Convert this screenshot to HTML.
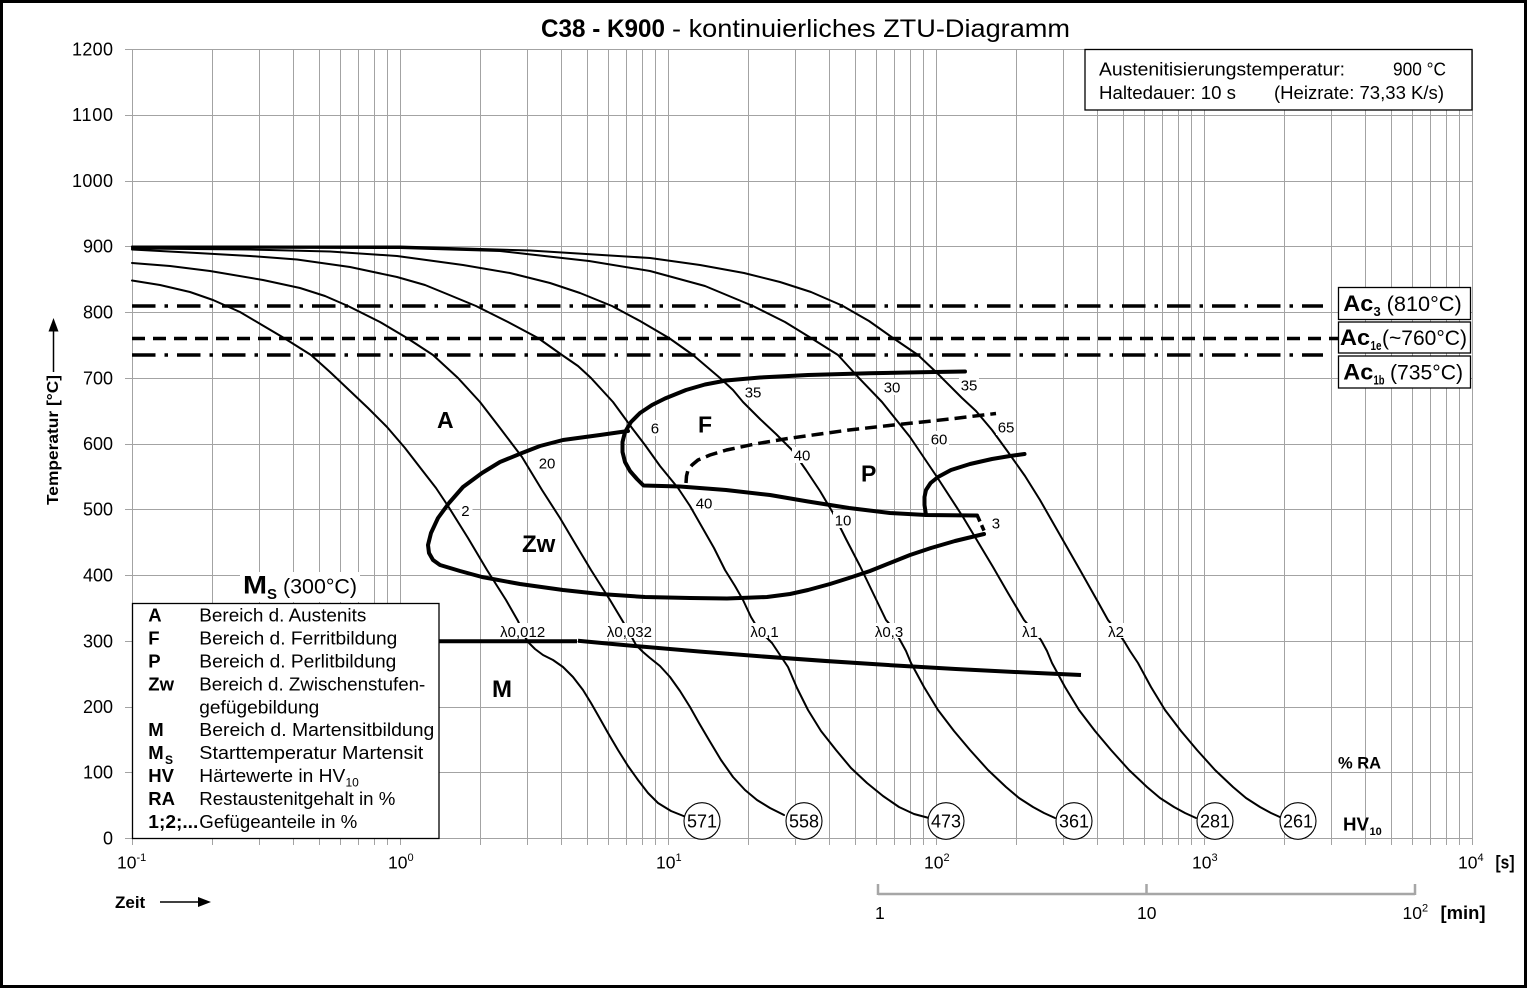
<!DOCTYPE html>
<html><head><meta charset="utf-8"><style>
html,body{margin:0;padding:0;background:#fff;}
svg{display:block;}
text{font-family:"Liberation Sans",Arial,sans-serif;fill:#000;}
.b{font-weight:bold;}
</style></head><body>
<svg xmlns="http://www.w3.org/2000/svg" width="1528" height="988" viewBox="0 0 1528 988">
<rect x="0" y="0" width="1528" height="988" fill="#fff"/>

<!-- grid -->
<path fill="none" stroke="#a3a3a3" stroke-width="1" d="
M132.5 49.5V845M212.5 49.5V845M259.5 49.5V845M293.5 49.5V845M319.5 49.5V845M340.5 49.5V845M358.5 49.5V845M374.5 49.5V845M387.5 49.5V845
M400.5 49.5V845M480.5 49.5V845M527.5 49.5V845M561.5 49.5V845M587.5 49.5V845M608.5 49.5V845M626.5 49.5V845M642.5 49.5V845M655.5 49.5V845
M668.5 49.5V845M748.5 49.5V845M795.5 49.5V845M829.5 49.5V845M855.5 49.5V845M876.5 49.5V845M894.5 49.5V845M910.5 49.5V845M923.5 49.5V845
M936.5 49.5V845M1016.5 49.5V845M1063.5 49.5V845M1097.5 49.5V845M1123.5 49.5V845M1144.5 49.5V845M1162.5 49.5V845M1178.5 49.5V845M1191.5 49.5V845
M1204.5 49.5V845M1284.5 49.5V845M1331.5 49.5V845M1365.5 49.5V845M1391.5 49.5V845M1412.5 49.5V845M1430.5 49.5V845M1446.5 49.5V845M1459.5 49.5V845
M1472.5 49.5V845
M125 838.5H1472.5M125 772.5H1472.5M125 707.5H1472.5M125 641.5H1472.5M125 575.5H1472.5M125 509.5H1472.5M125 444.5H1472.5
M125 378.5H1472.5M125 312.5H1472.5M125 246.5H1472.5M125 181.5H1472.5M125 115.5H1472.5M125 49.5H1472.5"/>

<!-- Y tick labels -->
<g font-size="18" text-anchor="end">
<text x="113" y="844.5">0</text>
<text x="113" y="778.5">100</text>
<text x="113" y="713">200</text>
<text x="113" y="647.5">300</text>
<text x="113" y="581.5">400</text>
<text x="113" y="515.5">500</text>
<text x="113" y="450">600</text>
<text x="113" y="384.5">700</text>
<text x="113" y="318.5">800</text>
<text x="113" y="252.5">900</text>
<text x="113" y="187" textLength="41">1000</text>
<text x="113" y="121" textLength="41">1100</text>
<text x="113" y="55.5" textLength="41">1200</text>
</g>

<!-- X tick labels -->
<g font-size="17.5">
<text x="117" y="868.5">10</text><text x="136.5" y="861" font-size="11">-1</text>
<text x="388" y="868.5">10</text><text x="407.5" y="861" font-size="11">0</text>
<text x="656" y="868.5">10</text><text x="675.5" y="861" font-size="11">1</text>
<text x="924" y="868.5">10</text><text x="943.5" y="861" font-size="11">2</text>
<text x="1192" y="868.5">10</text><text x="1211.5" y="861" font-size="11">3</text>
<text x="1458" y="868.5">10</text><text x="1477.5" y="861" font-size="11">4</text>
<text x="1495.5" y="868.5" class="b" font-size="18" textLength="19" lengthAdjust="spacingAndGlyphs">[s]</text>
</g>

<!-- minute scale -->
<path d="M878 894H1415M878 884V895M1146.5 884V895M1415 884V895" stroke="#a6a6a6" stroke-width="2.5" fill="none"/>
<g font-size="17.5">
<text x="875" y="919">1</text>
<text x="1137" y="919">10</text>
<text x="1402.5" y="919">10</text><text x="1422" y="911.5" font-size="11">2</text>
<text x="1440.5" y="919" class="b" font-size="18" textLength="45" lengthAdjust="spacingAndGlyphs">[min]</text>
</g>

<!-- Zeit arrow -->
<text x="115" y="908" font-size="17" class="b">Zeit</text>
<line x1="160" y1="902" x2="200" y2="902" stroke="#000" stroke-width="1.5"/>
<polygon points="198,897 211,902 198,907" fill="#000"/>

<!-- Y axis title -->
<text transform="translate(58,505) rotate(-90)" font-size="16" class="b" textLength="130" lengthAdjust="spacingAndGlyphs">Temperatur [°C]</text>
<line x1="53.5" y1="372" x2="53.5" y2="328" stroke="#000" stroke-width="1.5"/>
<polygon points="48.5,331.5 53.5,318 58.5,331.5" fill="#000"/>

<!-- Title -->
<text x="541" y="37" font-size="25" class="b" textLength="124" lengthAdjust="spacingAndGlyphs">C38 - K900</text>
<text x="672" y="37" font-size="25" textLength="398" lengthAdjust="spacingAndGlyphs">- kontinuierliches ZTU-Diagramm</text>

<!-- Ac lines -->
<line x1="132" y1="306" x2="1323" y2="306" stroke="#000" stroke-width="3.5" stroke-dasharray="23.5 9 3.5 9"/>
<line x1="132" y1="338.5" x2="1338" y2="338.5" stroke="#000" stroke-width="3.5" stroke-dasharray="13 8"/>
<line x1="132" y1="355" x2="1323" y2="355" stroke="#000" stroke-width="3.5" stroke-dasharray="23.5 9 3.5 9"/>

<!-- cooling curves -->
<g fill="none" stroke="#000" stroke-width="2" stroke-linejoin="round" stroke-linecap="round">
<polyline points="132,280.5 160,285 190,292 213,300 240,312 262,325 284,338 311,355 330,372 349,390 368,408 387,427 405,448 422,470 436,488 448,506 468,538 487,570 506,600 518,621 523,632 527,641 535,649 543,655 553,660 563,667 573,677 583,690 591,703 599,717 608,733 618,750 628,766 638,780 648,793 658,803 671,811 686,817"/>
<polyline points="132,263 170,266 210,271 263,280 300,288 325,296 348,306 380,322 407,338 433,355 458,378 480,402 500,428 522,457 542,490 560,518 576,545 591,570 610,600 622,620 629,632 636,645 643,652 650,658 660,666 670,677 680,691 690,707 699,723 709,740 721,760 733,777 745,790 757,800 770,808 784,815"/>
<polyline points="132,249.5 197,253 250,256 297,259.5 350,267 397,277 425,285 447,294 476,306 508,322 538,338 562,355 578,366 591,378 613,402 632,428 645,445 660,466 678,488 690,506 702,527 714,548 725,570 735,586 743,600 751,617 757,627 762,634 767,638 772,643 780,655 788,667 797,688 808,710 821,731 836,750 851,768 867,783 883,796 899,807 914,814 929,818"/>
<polyline points="132,248.5 250,249.5 330,251.5 397,256 463,265 510,273 550,283 580,293 612,306 640,321 669,338 693,355 720,378 733,390 743,402 760,419 776,434 792,450 806,470 820,491 833,513 846,539 860,566 873,593 886,620 893,628 900,640 906,651 911,663 924,687 938,710 954,731 970,750 988,770 1006,787 1019,798 1033,807 1044,813 1055,818"/>
<polyline points="132,247.5 400,248 500,251 589,261 650,271 705,286 753,306 785,322 811,338 838,355 858,377 882,402 910,437 937,477 963,517 978,542 993,567 1008,593 1024,620 1031,628 1041,640 1047,651 1052,663 1065,687 1079,710 1095,731 1111,750 1129,770 1147,787 1160,798 1174,807 1185,813 1196,818"/>
<polyline points="132,246.5 400,246.5 530,250.5 650,258 700,265 744,273 780,282 811,292 842,305.5 869,321 893,338 918,355 936,372 962,398 976,411 992,430 1008,452 1025,476 1040,500 1060,535 1080,570 1098,602 1108,620 1116,630 1124,641 1130,651 1138,663 1151,687 1165,710 1181,731 1197,750 1215,770 1233,787 1246,798 1260,807 1271,813 1282,818"/>
</g>

<!-- transformation boundaries -->
<g fill="none" stroke="#000" stroke-width="4" stroke-linejoin="round" stroke-linecap="round">
<polyline points="628,431 600,435 563,440 540,446 522,453 500,462 482,473 463,487 449,503 438,518 431,533 428,545 429,553 433,560 440,565 460,571 482,577 520,584 563,590 600,594 645,597 690,598 727,598.5 767,597 790,594 808,590 830,584 849,578 870,571 890,563 910,555 931,548 955,541 984,534"/>
<polyline points="965,371.5 920,372.3 869,373.3 808,375 760,377.5 726,380.5 705,384.5 686,390 665,398.5 652,405 640,413 631,422 625,432 622.5,442 622.5,452 625,462 630,471 637,479 643.5,485.5 680,486.5 726,490 770,495 808,501.5 849,508 890,513 926,515 977,515.5"/>
<polyline points="926,515 924.5,505 924.5,497 926,490 930.6,483 938,477 951,470 970,464 992,459 1010,456 1024.5,454"/>
<polyline points="686,483 686.5,476 688,470 692,465 698,460 710,455 726.5,450 755,444 787.8,438.5 820,434 849,430 880,426.5 910,423.3 950,419 996,413.5" stroke-width="3.5" stroke-dasharray="12 6" stroke-linecap="butt"/>
<line x1="977.5" y1="516" x2="985.5" y2="534" stroke-width="3.5" stroke-dasharray="6 4" stroke-linecap="butt"/>
<line x1="439" y1="641.3" x2="577" y2="641.3" stroke-linecap="butt"/>
<path d="M578,640.7 Q820,664 1081,675" stroke-linecap="butt"/>
</g>

<!-- small number labels -->
<g fill="#fff">
<rect x="459.5" y="502" width="13" height="16"/>
<rect x="537" y="455" width="20" height="16"/>
<rect x="649" y="420" width="13" height="16"/>
<rect x="743" y="384" width="20" height="16"/>
<rect x="792" y="447" width="20" height="16"/>
<rect x="694" y="495" width="20" height="16"/>
<rect x="833" y="512" width="20" height="16"/>
<rect x="882" y="379" width="20" height="16"/>
<rect x="959" y="377" width="20" height="16"/>
<rect x="929" y="431" width="20" height="16"/>
<rect x="996" y="419" width="20" height="16"/>
<rect x="990" y="515" width="13" height="16"/>
</g>
<g font-size="15">
<text x="461.3" y="516">2</text>
<text x="538.7" y="468.5">20</text>
<text x="650.8" y="433.5">6</text>
<text x="744.7" y="397.5">35</text>
<text x="793.7" y="460.5">40</text>
<text x="695.7" y="508.5">40</text>
<text x="834.7" y="525.5">10</text>
<text x="883.7" y="392.5">30</text>
<text x="960.7" y="390.5">35</text>
<text x="930.7" y="444.5">60</text>
<text x="997.7" y="432.5">65</text>
<text x="991.8" y="528.5">3</text>
</g>

<!-- lambda labels -->
<g fill="#fff">
<rect x="498" y="623" width="50" height="15"/>
<rect x="605" y="623" width="50" height="15"/>
<rect x="749" y="623" width="31" height="15"/>
<rect x="873" y="623" width="32" height="15"/>
<rect x="1020" y="623" width="20" height="15"/>
<rect x="1106" y="623" width="20" height="15"/>
</g>
<g font-size="15" text-anchor="middle">
<text x="522.7" y="637">λ0,012</text>
<text x="629.4" y="637">λ0,032</text>
<text x="764.6" y="637">λ0,1</text>
<text x="889" y="637">λ0,3</text>
<text x="1030" y="637">λ1</text>
<text x="1116" y="637">λ2</text>
</g>

<!-- region letters -->
<text x="437" y="428" font-size="23" class="b">A</text>
<text x="698" y="432.5" font-size="23" class="b">F</text>
<text x="861" y="481.5" font-size="23" class="b">P</text>
<text x="522" y="552" font-size="24" class="b">Zw</text>
<text x="492" y="697" font-size="24" class="b">M</text>

<!-- HV circles -->
<g fill="#fff" stroke="#000" stroke-width="1.1">
<ellipse cx="702" cy="821" rx="18" ry="18.3"/>
<ellipse cx="804" cy="821" rx="18" ry="18.3"/>
<ellipse cx="946" cy="821" rx="18" ry="18.3"/>
<ellipse cx="1074" cy="821" rx="18" ry="18.3"/>
<ellipse cx="1215" cy="821" rx="18" ry="18.3"/>
<ellipse cx="1298" cy="821" rx="18" ry="18.3"/>
</g>
<g font-size="18" text-anchor="middle">
<text x="702" y="827.5">571</text>
<text x="804" y="827.5">558</text>
<text x="946" y="827.5">473</text>
<text x="1074" y="827.5">361</text>
<text x="1215" y="827.5">281</text>
<text x="1298" y="827.5">261</text>
</g>
<text x="1338" y="768.5" font-size="16.5" class="b">% RA</text>
<text x="1343" y="830.5" font-size="18" class="b" textLength="26" lengthAdjust="spacingAndGlyphs">HV</text>
<text x="1369.5" y="835" font-size="11" class="b">10</text>

<!-- Ms label -->
<rect x="240" y="572" width="120" height="30" fill="#fff"/>
<text x="243" y="593.5" font-size="25" class="b" textLength="24" lengthAdjust="spacingAndGlyphs">M</text>
<text x="267" y="599" font-size="15" class="b">S</text>
<text x="283" y="593.5" font-size="21" textLength="74" lengthAdjust="spacingAndGlyphs">(300°C)</text>

<!-- Legend -->
<rect x="132.5" y="603.5" width="306.5" height="235" fill="#fff" stroke="#000" stroke-width="1.3"/>
<g font-size="18.5">
<text x="148.3" y="621.7" class="b">A</text>
<text x="148.3" y="644.6" class="b">F</text>
<text x="148.3" y="667.5" class="b">P</text>
<text x="148.3" y="690.4" class="b">Zw</text>
<text x="148.3" y="736.2" class="b">M</text>
<text x="148.3" y="759.1" class="b">M</text><text x="165" y="764" font-size="12" class="b">S</text>
<text x="148.3" y="782" class="b">HV</text>
<text x="148.3" y="804.9" class="b">RA</text>
<text x="148.3" y="827.8" class="b" textLength="50" lengthAdjust="spacingAndGlyphs">1;2;...</text>
<text x="199.3" y="621.7" textLength="167" lengthAdjust="spacingAndGlyphs">Bereich d. Austenits</text>
<text x="199.3" y="644.6" textLength="198" lengthAdjust="spacingAndGlyphs">Bereich d. Ferritbildung</text>
<text x="199.3" y="667.5" textLength="197" lengthAdjust="spacingAndGlyphs">Bereich d. Perlitbildung</text>
<text x="199.3" y="690.4" textLength="226" lengthAdjust="spacingAndGlyphs">Bereich d. Zwischenstufen-</text>
<text x="199.3" y="713.3" textLength="120" lengthAdjust="spacingAndGlyphs">gefügebildung</text>
<text x="199.3" y="736.2" textLength="235" lengthAdjust="spacingAndGlyphs">Bereich d. Martensitbildung</text>
<text x="199.3" y="759.1" textLength="224" lengthAdjust="spacingAndGlyphs">Starttemperatur Martensit</text>
<text x="199.3" y="782" textLength="146" lengthAdjust="spacingAndGlyphs">Härtewerte in HV</text><text x="345.5" y="786.5" font-size="12">10</text>
<text x="199.3" y="804.9" textLength="196" lengthAdjust="spacingAndGlyphs">Restaustenitgehalt in %</text>
<text x="199.3" y="827.8" textLength="158" lengthAdjust="spacingAndGlyphs">Gefügeanteile in %</text>
</g>

<!-- Info box -->
<rect x="1085" y="49.5" width="387" height="60.5" fill="#fff" stroke="#000" stroke-width="1.3"/>
<g font-size="18.5">
<text x="1099" y="75.5" textLength="246" lengthAdjust="spacingAndGlyphs">Austenitisierungstemperatur:</text>
<text x="1393" y="75.5" textLength="53" lengthAdjust="spacingAndGlyphs">900 °C</text>
<text x="1099" y="99" textLength="137" lengthAdjust="spacingAndGlyphs">Haltedauer: 10 s</text>
<text x="1274" y="99" textLength="170" lengthAdjust="spacingAndGlyphs">(Heizrate: 73,33 K/s)</text>
</g>

<!-- Ac boxes -->
<g fill="#fff" stroke="#000" stroke-width="1.3">
<rect x="1338.5" y="287.5" width="132" height="32"/>
<rect x="1338.5" y="322" width="132" height="31"/>
<rect x="1338.5" y="356" width="132" height="32"/>
</g>
<text x="1343.3" y="311" font-size="22" class="b" textLength="30" lengthAdjust="spacingAndGlyphs">Ac</text>
<text x="1373.5" y="316" font-size="13" class="b">3</text>
<text x="1386.7" y="311" font-size="21" textLength="75" lengthAdjust="spacingAndGlyphs">(810°C)</text>
<text x="1340" y="345" font-size="22" class="b" textLength="30" lengthAdjust="spacingAndGlyphs">Ac</text>
<text x="1370.5" y="350" font-size="13" class="b" textLength="11" lengthAdjust="spacingAndGlyphs">1e</text>
<text x="1382" y="345" font-size="21" textLength="85" lengthAdjust="spacingAndGlyphs">(~760°C)</text>
<text x="1343.3" y="379.5" font-size="22" class="b" textLength="30" lengthAdjust="spacingAndGlyphs">Ac</text>
<text x="1373.5" y="384.5" font-size="13" class="b" textLength="11" lengthAdjust="spacingAndGlyphs">1b</text>
<text x="1390" y="379.5" font-size="21" textLength="73" lengthAdjust="spacingAndGlyphs">(735°C)</text>

<!-- outer border -->
<rect x="1.5" y="1.5" width="1524" height="985" fill="none" stroke="#000" stroke-width="3"/>
</svg>
</body></html>
